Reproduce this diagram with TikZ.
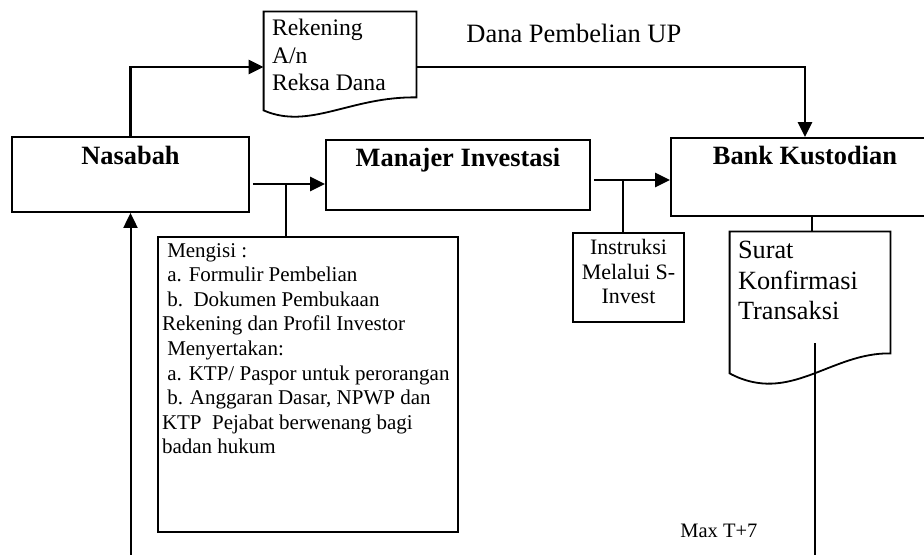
\documentclass[tikz,border=0pt]{standalone}
\usepackage{fontspec}
\setmainfont{Liberation Serif}
\usetikzlibrary{arrows.meta}

\begin{document}
\begin{tikzpicture}[x=0.5pt, y=-0.5pt, >={Stealth[length=7.5pt, width=7pt, inset=0pt]}]
    \tikzset{
        box/.style={rectangle, draw, line width=0.9pt, inner sep=0pt},
        title/.style={box, font=\fontsize{13.2}{16}\selectfont\bfseries},
        doc/.style={rectangle, inner ysep=0pt, inner xsep=4pt, align=flush left},
        docline/.style={line width=0.9pt, line join=miter},
        arr/.style={->, line width=1.4pt},
        wire/.style={line width=0.9pt}
    }
    \useasboundingbox (0,0) rectangle (924,555);

    % Main boxes
    \node[title, minimum width=118.5pt, text height=14pt, text depth=23.5pt] (nas) at (130.5,174.5) {Nasabah};
    \node[title, minimum width=132pt, text height=13.5pt, text depth=21.5pt] (man) at (458,175) {Manajer Investasi};
    \node[title, minimum width=134pt, text height=13.5pt, text depth=25.5pt] (bank) at (805,177) {Bank Kustodian};

    % Documents
    \node[doc, text width=68pt, text height=12pt, text depth=30.5pt, font=\fontsize{11.85}{13.75}\selectfont] (rek) at (340,54.5) {Rekening\\A/n\\Reksa Dana};
    \draw[docline] (rek.north west) -- (rek.north east) -- (rek.south east)
        .. controls +(-66,-1) and +(46,20) .. ([yshift=-6.5pt]rek.south west) -- cycle;

    \node[doc, text width=72pt, text height=13.5pt, text depth=47pt, font=\fontsize{13.15}{15}\selectfont] (sur) at (810,292.5) {Surat\\Konfirmasi\\Transaksi};
    \draw[docline] (sur.north west) -- (sur.north east) -- (sur.south east)
        .. controls +(-60,-1) and +(60,32) .. ([yshift=-10pt]sur.south west) -- cycle;

    % Notes
    \node[box, text width=55.5pt, align=flush center, text height=11pt, text depth=33.5pt, font=\fontsize{11}{12.25}\selectfont] (ins) at (628.5,277.5) {Instruksi\\Melalui S-\\Invest};
    \node[box, inner xsep=2pt, text width=146pt, align=flush left, text height=10pt, text depth=137.5pt, font=\fontsize{10.5}{12.3}\selectfont] (isi) at (308,384.5)
        {\hspace*{.25em}Mengisi :\\
         \hspace*{.25em}a. Formulir Pembelian\\
         \hspace*{.25em}b.\ \ Dokumen Pembukaan\\
         Rekening dan Profil Investor\\
         \hspace*{.25em}Menyertakan:\\
         \hspace*{.25em}a. KTP/ Paspor untuk perorangan\\
         \hspace*{.25em}b. Anggaran Dasar, NPWP dan\\
         KTP\ \ Pejabat berwenang bagi\\
         badan hukum};

    \node[anchor=base west, inner sep=0pt, font=\fontsize{13.25}{15}\selectfont] (dana) at (466,43) {Dana Pembelian UP};
    \node[anchor=base west, inner sep=0pt, font=\fontsize{10.25}{12}\selectfont] (maks) at (680,537) {Max T+7};

    % Connectors
    \coordinate (rekin) at ([yshift=-6.25pt]rek.west);
    \coordinate (manin) at ([yshift=-4.5pt]man.west);
    \coordinate (bankin) at ([yshift=-1.5pt]bank.west);
    \coordinate (surin) at ([xshift=2.5pt, yshift=-25.25pt]sur.center);
    \coordinate (surout) at (815,555);
    \coordinate (nasout) at (130.5,555);

    \draw[arr] (nas.north) |- (rekin);
    \draw[arr] (rek.east |- rekin) -| (bank.north);
    \draw[arr] ([xshift=1.5pt]nas.east |- manin) -- (manin);
    \draw[wire] ([xshift=-11pt]isi.north) -- ([xshift=-11pt]isi.north |- manin);
    \draw[arr] ([xshift=1.5pt]man.east |- bankin) -- (bankin);
    \draw[wire] ([xshift=-2.75pt]ins.north) -- ([xshift=-2.75pt]ins.north |- bankin);
    \draw[wire] ([xshift=1pt]sur.north) -- ([xshift=1pt]sur.north |- bank.south);
    \draw[wire] (surin) -- (surout);
    \draw[arr, line width=1pt] (nasout) -- (nas.south);
\end{tikzpicture}
\end{document}
